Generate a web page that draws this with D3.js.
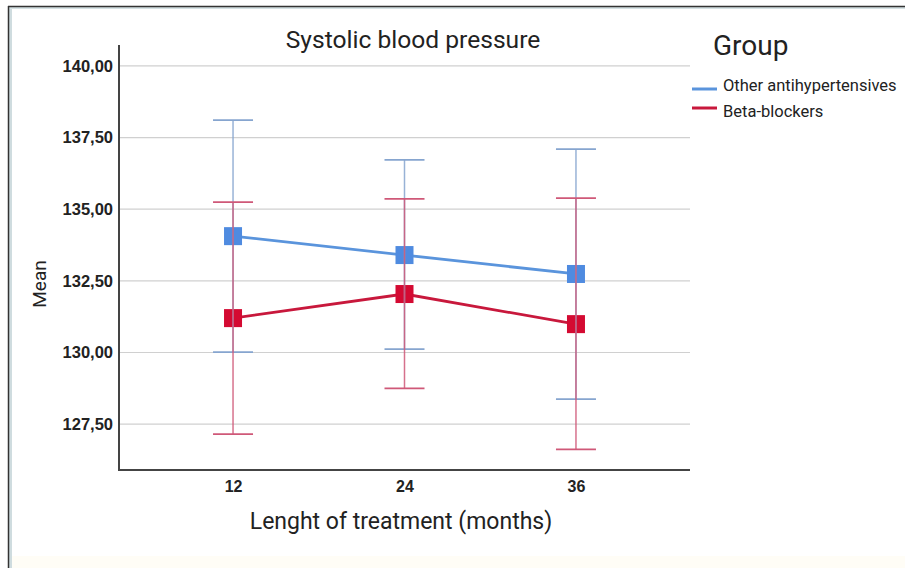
<!DOCTYPE html>
<html>
<head>
<meta charset="utf-8">
<script src="https://cdn.jsdelivr.net/npm/d3@7"></script>
<style>
  body { margin: 0; background: #fff; }
  svg { display: block; }
</style>
</head>
<body>
<div id="chart"></div>
<script>
// data
var months = ["12", "24", "36"];
var groups = ["Other antihypertensives", "Beta-blockers"];
var otherMean = [134.06, 133.40, 132.74];
var otherLow = [130.01, 130.12, 128.37];
var otherHigh = [138.11, 136.72, 137.10];
var betaMean = [131.20, 132.04, 130.99];
var betaLow = [127.15, 128.75, 126.62];
var betaHigh = [135.25, 135.36, 135.39];
var yTicks = [127.5, 130, 132.5, 135, 137.5, 140];

var width = 905, height = 568;
var plotLeft = 119, plotRight = 690, plotTop = 45, plotBottom = 470;

var svg = d3.select("#chart").append("svg")
    .attr("width", width)
    .attr("height", height);

// frame of the screenshot
svg.append("rect").attr("x", 9).attr("y", 7).attr("width", width - 9).attr("height", height - 7)
    .attr("fill", "#fff");
svg.append("rect").attr("x", 9).attr("y", 7).attr("width", 3).attr("height", height - 7).attr("fill", "#cfdcdf");
svg.append("rect").attr("x", 9).attr("y", 7).attr("width", width - 9).attr("height", 2).attr("fill", "#d6e2e4");
svg.append("line").attr("x1", 8.5).attr("x2", 8.5).attr("y1", 6).attr("y2", height).attr("stroke", "#333").attr("stroke-width", 1.5);
svg.append("line").attr("x1", 8).attr("x2", width).attr("y1", 6.5).attr("y2", 6.5).attr("stroke", "#333").attr("stroke-width", 1.5);
svg.append("rect").attr("x", 12).attr("y", 556).attr("width", width - 12).attr("height", 12).attr("fill", "#fffdf6");

var x = d3.scalePoint().domain(months).range([plotLeft, plotRight]).padding(0.665);
var y = d3.scaleLinear().domain([125.9, 140.73]).range([plotBottom, plotTop]);

// grid
svg.append("g").selectAll("line").data(yTicks).enter().append("line")
    .attr("x1", plotLeft).attr("x2", plotRight)
    .attr("y1", function (d) { return y(d); })
    .attr("y2", function (d) { return y(d); })
    .attr("stroke", "#d0d0d0").attr("stroke-width", 1.2);

// axes
var yAxis = svg.append("g").attr("transform", "translate(" + plotLeft + ",0)")
    .call(d3.axisLeft(y).tickValues(yTicks).tickSize(0).tickPadding(6)
        .tickFormat(function (d) { return d.toFixed(2).replace(".", ","); }));
yAxis.select(".domain").remove();
yAxis.selectAll("text").attr("font-family", "Liberation Sans, Arial, sans-serif")
    .attr("font-size", 16.5).attr("font-weight", "bold").attr("fill", "#222");

var xAxis = svg.append("g").attr("transform", "translate(0," + plotBottom + ")")
    .call(d3.axisBottom(x).tickSize(0).tickPadding(11));
xAxis.select(".domain").remove();
xAxis.selectAll("text").attr("font-family", "Liberation Sans, Arial, sans-serif")
    .attr("font-size", 16).attr("font-weight", "bold").attr("fill", "#222");

svg.append("line").attr("x1", plotLeft).attr("x2", plotLeft).attr("y1", plotTop).attr("y2", plotBottom + 1)
    .attr("stroke", "#444").attr("stroke-width", 2);
svg.append("line").attr("x1", plotLeft).attr("x2", plotRight).attr("y1", plotBottom).attr("y2", plotBottom)
    .attr("stroke", "#444").attr("stroke-width", 2);

var series = [
    { name: groups[0], mean: otherMean, low: otherLow, high: otherHigh, line: "#5a94dc", bar: "#86a5cf", mark: "#4f8be0", legendY: 89, textY: 91 },
    { name: groups[1], mean: betaMean, low: betaLow, high: betaHigh, line: "#c8183c", bar: "#cf5878", mark: "#d40a32", legendY: 108, textY: 117 }
];

// lines and markers
series.forEach(function (s) {
    var line = d3.line()
        .x(function (d, i) { return x(months[i]); })
        .y(function (d) { return y(d); });
    svg.append("path").datum(s.mean).attr("d", line)
        .attr("fill", "none").attr("stroke", s.line).attr("stroke-width", 2.8);
    svg.append("g").selectAll("rect").data(s.mean).enter().append("rect")
        .attr("x", function (d, i) { return x(months[i]) - 9; })
        .attr("y", function (d) { return y(d) - 9; })
        .attr("width", 18).attr("height", 18)
        .attr("fill", s.mark);
});

// error bars, drawn over the markers
var capHalf = 20;
series.forEach(function (s) {
    var g = svg.append("g");
    var idx = d3.range(months.length);
    g.selectAll(".stem").data(idx).enter().append("line")
        .attr("x1", function (i) { return x(months[i]); })
        .attr("x2", function (i) { return x(months[i]); })
        .attr("y1", function (i) { return y(s.low[i]); })
        .attr("y2", function (i) { return y(s.high[i]); })
        .attr("stroke", s.bar).attr("stroke-width", 1.5).attr("stroke-opacity", 0.85);
    [s.low, s.high].forEach(function (arr) {
        g.selectAll(null).data(idx).enter().append("line")
            .attr("x1", function (i) { return x(months[i]) - capHalf; })
            .attr("x2", function (i) { return x(months[i]) + capHalf; })
            .attr("y1", function (i) { return y(arr[i]); })
            .attr("y2", function (i) { return y(arr[i]); })
            .attr("stroke", s.bar).attr("stroke-width", 1.8);
    });
});

// titles
svg.append("text").attr("x", 413).attr("y", 48).attr("text-anchor", "middle")
    .attr("font-family", "Roboto, sans-serif").attr("font-size", 24.6).attr("fill", "#222")
    .text("Systolic blood pressure");
svg.append("text").attr("x", 401).attr("y", 529).attr("text-anchor", "middle")
    .attr("font-family", "Roboto, sans-serif").attr("font-size", 23).attr("fill", "#222")
    .text("Lenght of treatment (months)");
svg.append("text").attr("transform", "translate(46,284) rotate(-90)").attr("text-anchor", "middle")
    .attr("font-family", "Roboto, sans-serif").attr("font-size", 19).attr("fill", "#222")
    .text("Mean");

// legend
svg.append("text").attr("x", 713).attr("y", 55)
    .attr("font-family", "Roboto, sans-serif").attr("font-size", 28).attr("fill", "#222")
    .text("Group");
var legend = svg.append("g").selectAll("g").data(series).enter().append("g");
legend.append("line").attr("x1", 692).attr("x2", 717)
    .attr("y1", function (d) { return d.legendY; })
    .attr("y2", function (d) { return d.legendY; })
    .attr("stroke", function (d) { return d.line; }).attr("stroke-width", 3);
legend.append("text").attr("x", 723)
    .attr("y", function (d) { return d.textY; })
    .attr("font-family", "Roboto, sans-serif").attr("font-size", 16.5).attr("fill", "#222")
    .text(function (d) { return d.name; });
</script>
</body>
</html>
